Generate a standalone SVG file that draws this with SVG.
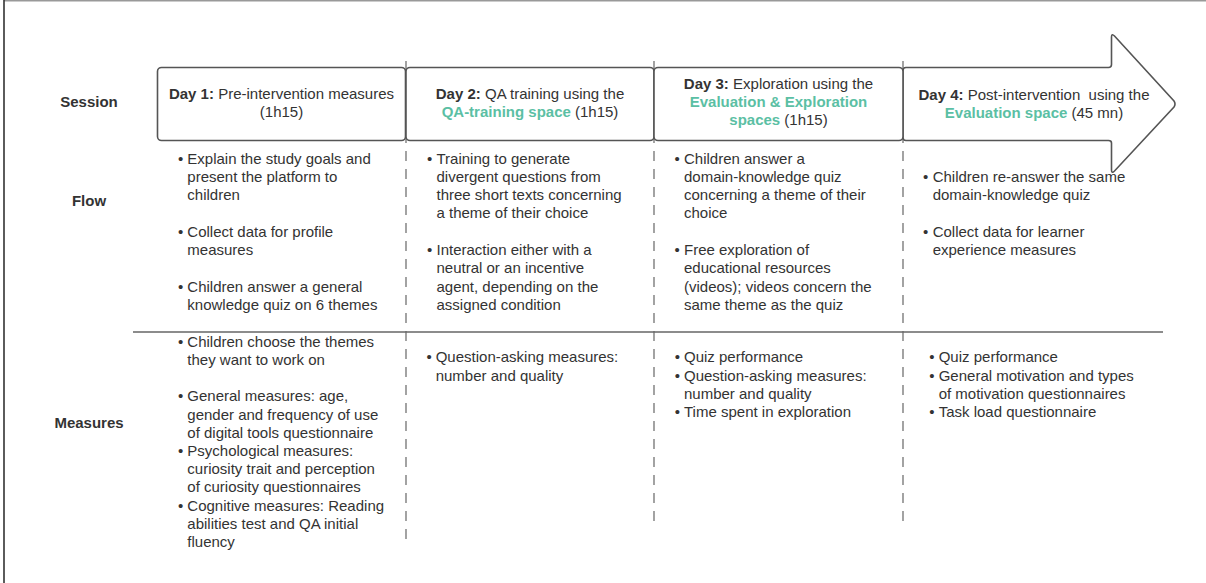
<svg xmlns="http://www.w3.org/2000/svg" width="1206" height="583" viewBox="0 0 1206 583">
<style>
text{font-family:"Liberation Sans",Arial,sans-serif;font-size:15px;fill:#333;}
.lbl{font-weight:bold;text-anchor:middle;}
.hd{text-anchor:middle;}
.b{font-weight:bold;}
.t{fill:#5bbfa4;font-weight:bold;}
.box{fill:#fff;stroke:#555;stroke-width:1.6;}
.dash{stroke:#666;stroke-width:1.2;stroke-dasharray:10 8;fill:none;}
.sep{stroke:#666;stroke-width:1.3;fill:none;}
</style>
<rect x="0" y="0" width="1206" height="583" fill="#fff"/>
<line x1="4" y1="0.7" x2="1206" y2="0.7" stroke="#999" stroke-width="1.4"/>
<line x1="4" y1="0" x2="4" y2="583" stroke="#333" stroke-width="1.6"/>

<g id="connectors">
<line class="dash" x1="406" y1="61" x2="406" y2="545"/>
<line class="dash" x1="654" y1="61" x2="654" y2="521"/>
<line class="dash" x1="903" y1="61" x2="903" y2="521"/>
<line class="sep" x1="133" y1="332" x2="1163" y2="332"/>
</g>

<g id="row-labels">
<text class="lbl" x="89" y="107">Session</text>
<text class="lbl" x="89" y="206">Flow</text>
<text class="lbl" x="89" y="428">Measures</text>
</g>

<g id="day4">
<path class="box" d="M906,67.5 H1108.5 Q1111.5,67.5 1111.5,64.5 V37 Q1111.5,33 1114.5,36 L1174,101 Q1176,104 1174,107 L1114.5,171 Q1111.5,174 1111.5,170 V143 Q1111.5,140.5 1108.5,140.5 H906 Q903,140.5 903,137.5 V70.5 Q903,67.5 906,67.5 Z"/>
<text class="hd" x="1034" y="100" xml:space="preserve"><tspan class="b">Day 4:</tspan> Post-intervention  using the</text>
<text class="hd" x="1034" y="118"><tspan class="t">Evaluation space</tspan> (45 mn)</text>
</g>

<g id="day1">
<rect class="box" x="157.5" y="67.5" width="248" height="73" rx="4"/>
<text class="hd" x="281.5" y="99"><tspan class="b">Day 1:</tspan> Pre-intervention measures</text>
<text class="hd" x="281.5" y="117">(1h15)</text>
</g>

<g id="day2">
<rect class="box" x="406" y="67.5" width="248" height="73" rx="4"/>
<text class="hd" x="530" y="99"><tspan class="b">Day 2:</tspan> QA training using the</text>
<text class="hd" x="530" y="117"><tspan class="t">QA-training space</tspan> (1h15)</text>
</g>

<g id="day3">
<rect class="box" x="654" y="67.5" width="249" height="73" rx="4"/>
<text class="hd" x="778.5" y="89"><tspan class="b">Day 3:</tspan> Exploration using the</text>
<text class="hd" x="778.5" y="107"><tspan class="t">Evaluation &amp; Exploration</tspan></text>
<text class="hd" x="778.5" y="125"><tspan class="t">spaces</tspan> (1h15)</text>
</g>

<g id="flow1">
<text x="178" y="163.5">•</text>
<text x="187.3" y="163.5">Explain the study goals and</text>
<text x="187.3" y="181.8">present the platform to</text>
<text x="187.3" y="200.1">children</text>
<text x="178" y="236.7">•</text>
<text x="187.3" y="236.7">Collect data for profile</text>
<text x="187.3" y="255">measures</text>
<text x="178" y="291.6">•</text>
<text x="187.3" y="291.6">Children answer a general</text>
<text x="187.3" y="309.9">knowledge quiz on 6 themes</text>
</g>

<g id="flow2">
<text x="427" y="163.5">•</text>
<text x="436.5" y="163.5">Training to generate</text>
<text x="436.5" y="181.8">divergent questions from</text>
<text x="436.5" y="200.1">three short texts concerning</text>
<text x="436.5" y="218.4">a theme of their choice</text>
<text x="427" y="255">•</text>
<text x="436.5" y="255">Interaction either with a</text>
<text x="436.5" y="273.3">neutral or an incentive</text>
<text x="436.5" y="291.6">agent, depending on the</text>
<text x="436.5" y="309.9">assigned condition</text>
</g>

<g id="flow3">
<text x="674.5" y="163.5">•</text>
<text x="684" y="163.5">Children answer a</text>
<text x="684" y="181.8">domain-knowledge quiz</text>
<text x="684" y="200.1">concerning a theme of their</text>
<text x="684" y="218.4">choice</text>
<text x="674.5" y="255">•</text>
<text x="684" y="255">Free exploration of</text>
<text x="684" y="273.3">educational resources</text>
<text x="684" y="291.6">(videos); videos concern the</text>
<text x="684" y="309.9">same theme as the quiz</text>
</g>

<g id="flow4">
<text x="923" y="181.8">•</text>
<text x="932.7" y="181.8">Children re-answer the same</text>
<text x="932.7" y="200.1">domain-knowledge quiz</text>
<text x="923" y="236.7">•</text>
<text x="932.7" y="236.7">Collect data for learner</text>
<text x="932.7" y="255">experience measures</text>
</g>

<g id="measures1">
<text x="178" y="346.6">•</text>
<text x="187.3" y="346.6">Children choose the themes</text>
<text x="187.3" y="364.8">they want to work on</text>
<text x="178" y="401.3">•</text>
<text x="187.3" y="401.3">General measures: age,</text>
<text x="187.3" y="419.5">gender and frequency of use</text>
<text x="187.3" y="437.7">of digital tools questionnaire</text>
<text x="178" y="455.9">•</text>
<text x="187.3" y="455.9">Psychological measures:</text>
<text x="187.3" y="474.1">curiosity trait and perception</text>
<text x="187.3" y="492.3">of curiosity questionnaires</text>
<text x="178" y="510.5">•</text>
<text x="187.3" y="510.5">Cognitive measures: Reading</text>
<text x="187.3" y="528.7">abilities test and QA initial</text>
<text x="187.3" y="546.9">fluency</text>
</g>

<g id="measures2">
<text x="426.5" y="362.3">•</text>
<text x="435.7" y="362.3">Question-asking measures:</text>
<text x="435.7" y="380.5">number and quality</text>
</g>

<g id="measures3">
<text x="674.8" y="362.3">•</text>
<text x="684" y="362.3">Quiz performance</text>
<text x="674.8" y="380.5">•</text>
<text x="684" y="380.5">Question-asking measures:</text>
<text x="684" y="398.8">number and quality</text>
<text x="674.8" y="417">•</text>
<text x="684" y="417">Time spent in exploration</text>
</g>

<g id="measures4">
<text x="929.2" y="362.3">•</text>
<text x="938.7" y="362.3">Quiz performance</text>
<text x="929.2" y="380.5">•</text>
<text x="938.7" y="380.5">General motivation and types</text>
<text x="938.7" y="398.8">of motivation questionnaires</text>
<text x="929.2" y="417">•</text>
<text x="938.7" y="417">Task load questionnaire</text>
</g>
</svg>
